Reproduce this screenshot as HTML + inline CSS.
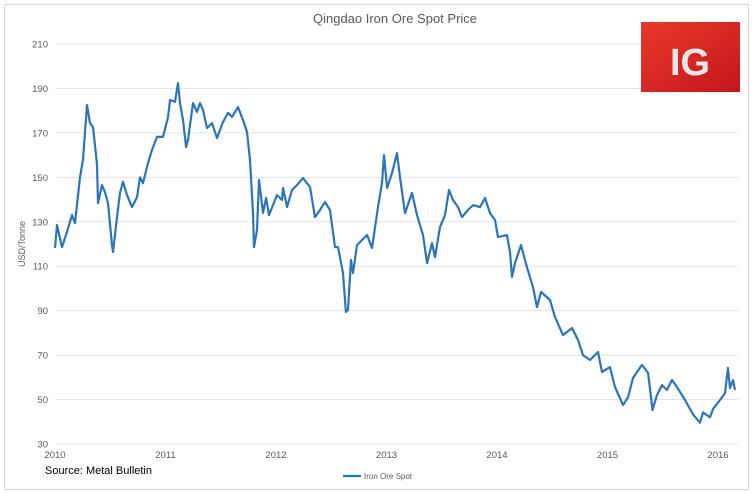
<!DOCTYPE html>
<html><head><meta charset="utf-8"><style>
body{margin:0;background:#fff;font-family:"Liberation Sans",sans-serif;}
svg{display:block}
</style></head><body>
<svg id="c" width="753" height="493">
<rect x="4.5" y="4.5" width="744" height="485" fill="#fff" stroke="#d9d9d9"/>
<text x="395" y="23" text-anchor="middle" font-size="13" fill="#595959">Qingdao Iron Ore Spot Price</text>
<text transform="translate(25,244) rotate(-90)" text-anchor="middle" font-size="9" fill="#595959">USD/Tonne</text>
<g id="grid"></g><g id="yt"></g><g id="xt"></g>
<path id="line" fill="none" stroke="#2e75b6" stroke-width="2.2" stroke-linejoin="round"/>
<text x="45" y="474" font-size="11" fill="#000">Source: Metal Bulletin</text>
<g>
<line x1="343" y1="476" x2="361" y2="476" stroke="#2e75b6" stroke-width="2.2"/>
<text x="364" y="479" font-size="8" fill="#595959">Iron Ore Spot</text>
</g>
<g>
<defs><linearGradient id="rg" x1="0" y1="0" x2="1" y2="1"><stop offset="0" stop-color="#e8392b"/><stop offset="1" stop-color="#c4161c"/></linearGradient></defs>
<rect x="641" y="22" width="99" height="70" fill="url(#rg)"/>
<text x="690" y="75" text-anchor="middle" font-size="38" font-weight="bold" fill="#e6e6e6">IG</text>
</g>
</svg>
<script>
const yTicks=[30,50,70,90,110,130,150,170,190,210];
const xTickLabels=["2010","2011","2012","2013","2014","2015","2016"];
const t=[0,.018,.063,.109,.154,.181,.226,.253,.290,.317,.344,.380,.389,.425,.452,.480,.516,.525,.561,.588,.615,.652,.697,.742,.769,.796,.842,.878,.923,.977,1.023,1.041,1.086,1.113,1.131,1.158,1.186,1.204,1.222,1.249,1.285,1.312,1.339,1.376,1.421,1.466,1.520,1.566,1.602,1.656,1.701,1.738,1.765,1.792,1.801,1.828,1.846,1.882,1.910,1.937,2.009,2.054,2.063,2.100,2.145,2.190,2.244,2.308,2.353,2.398,2.443,2.489,2.534,2.561,2.606,2.633,2.652,2.679,2.697,2.733,2.778,2.824,2.869,2.923,2.959,2.977,3.005,3.050,3.095,3.122,3.167,3.231,3.276,3.330,3.367,3.412,3.439,3.484,3.529,3.566,3.602,3.647,3.683,3.738,3.783,3.846,3.891,3.937,3.982,4.009,4.090,4.118,4.136,4.163,4.217,4.271,4.326,4.362,4.398,4.480,4.525,4.597,4.679,4.733,4.778,4.842,4.914,4.950,5.023,5.068,5.140,5.186,5.231,5.267,5.312,5.367,5.407,5.448,5.493,5.538,5.584,5.629,5.701,5.774,5.837,5.864,5.928,5.955,6.018,6.063,6.090,6.109,6.136,6.154,6.181];
const price=[118.2,128.5,118.6,125.4,133,129.4,150,158,182.5,174.4,172.6,156,138.4,146.5,143.4,138.4,119.5,116.4,132,143,148,142,136.6,141,150,147.4,156.4,162.3,168.2,168.2,177,184.8,184,192.4,183.4,175.8,163.6,166.8,173.5,183.4,179.4,183.4,180.3,172.2,174.4,167.7,174.9,179,177.2,181.6,175.8,170.4,157.8,134,118.6,126.3,148.8,134,140.7,133,142,139.8,145.2,136.6,144.3,146.5,149.7,145.6,132.1,135.3,138.9,135.3,118.6,118.6,106.9,89.4,90.3,112.8,106.9,119.5,121.8,124,118.2,136.6,147.4,160,145.2,151.9,160.9,150,133.9,143,133,124,111.4,120.4,114.1,127.6,133,144.3,139.8,136.6,132.1,135.3,137.5,136.6,140.7,133.9,130.8,123.1,124,116.4,105.2,111.4,119.5,109.6,100.6,91.6,98.4,94.8,87.1,79,82.2,76.8,70,67.8,71.4,62.4,64.6,55.6,47.5,51.1,59.7,62.4,65.6,61.9,45.3,52,56.5,54.3,58.8,55.6,49.8,43.3,39.6,44.2,42,45.7,49.8,52.9,64.2,55.2,58.8,54.3];
const X0=55,YR=110.5,X1=738;
const xs=v=>X0+v*YR;
const ys=v=>444-(v-30)*(400/180);
const NS="http://www.w3.org/2000/svg";
const grid=document.getElementById('grid'),yt=document.getElementById('yt'),xt=document.getElementById('xt');
yTicks.forEach(v=>{
 const l=document.createElementNS(NS,'line');
 l.setAttribute('x1',X0);l.setAttribute('x2',X1);l.setAttribute('y1',ys(v));l.setAttribute('y2',ys(v));
 l.setAttribute('stroke','#e3e3e3');l.setAttribute('stroke-width','1');
 
 
 grid.appendChild(l);
 const tx=document.createElementNS(NS,'text');
 tx.setAttribute('x',48);tx.setAttribute('y',ys(v)+3.5);tx.setAttribute('text-anchor','end');
 tx.setAttribute('font-size','9.5');tx.setAttribute('fill','#595959');tx.textContent=v;
 
 
 yt.appendChild(tx);
});
xTickLabels.forEach((s,i)=>{
 const tx=document.createElementNS(NS,'text');
 tx.setAttribute('x',xs(i));tx.setAttribute('y',458);tx.setAttribute('text-anchor','middle');
 tx.setAttribute('font-size','9.5');tx.setAttribute('fill','#595959');tx.textContent=s;
 
 
 xt.appendChild(tx);
});
document.getElementById('line').setAttribute('d',t.map((v,i)=>(i?'L':'M')+xs(v).toFixed(1)+','+ys(price[i]).toFixed(1)).join(''));
</script>
</body></html>
